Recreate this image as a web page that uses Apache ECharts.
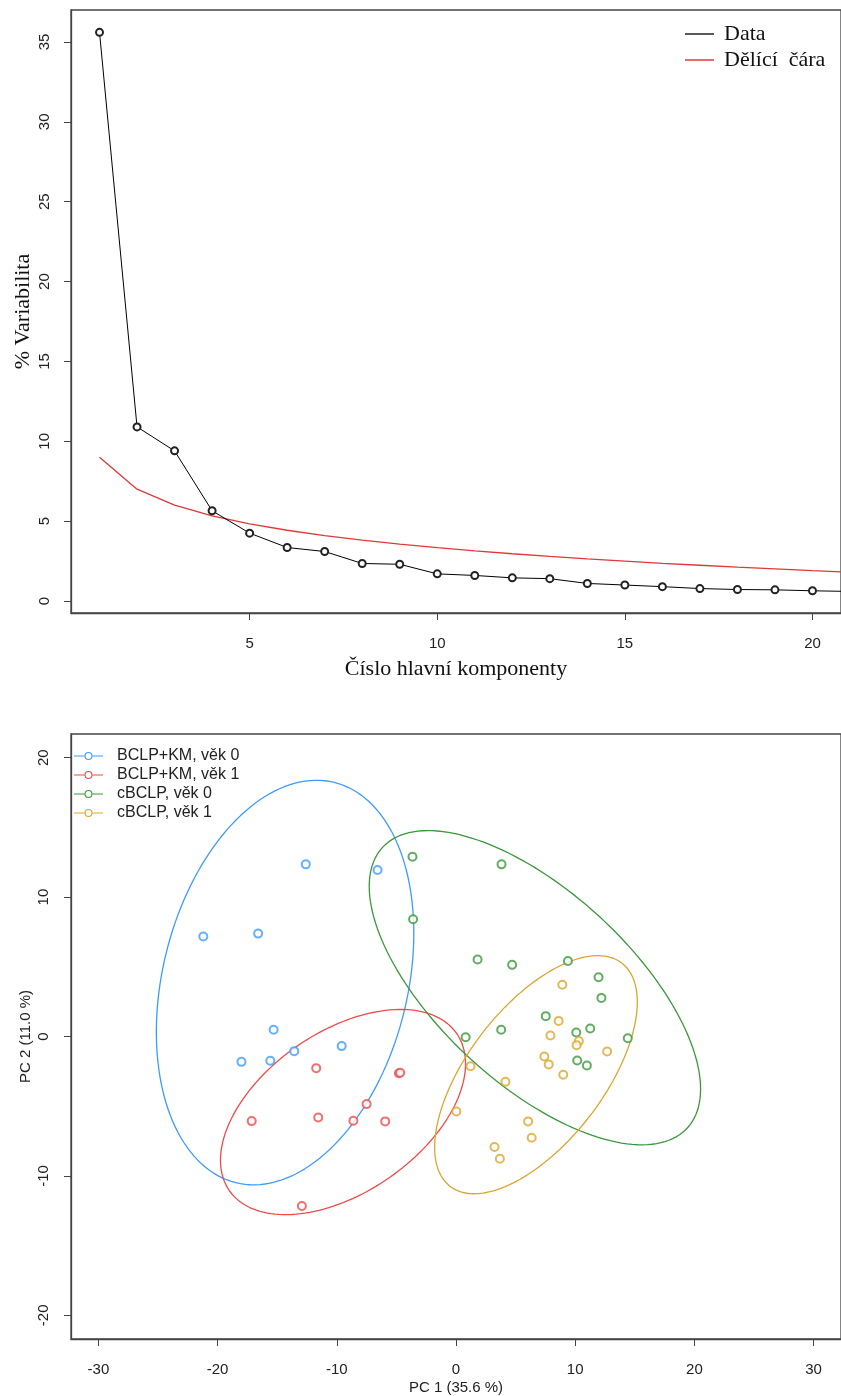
<!DOCTYPE html>
<html>
<head>
<meta charset="utf-8">
<script src="https://cdn.jsdelivr.net/npm/echarts@6/dist/echarts.min.js"></script>
<style>html,body{margin:0;padding:0;background:#fff;}#c{width:841px;height:1396px;}</style>
</head>
<body>
<div id="c"></div>
<script>
// ---------- Scree plot data ----------
const components = [1,2,3,4,5,6,7,8,9,10,11,12,13,14,15,16,17,18,19,20,21];
const dataPct = [35.6,10.9,9.4,5.65,4.25,3.35,3.1,2.35,2.3,1.7,1.6,1.45,1.4,1.1,1.0,0.9,0.78,0.72,0.7,0.64,0.6];
const splitLine = [9.0,7.0,6.0,5.33,4.83,4.43,4.10,3.81,3.56,3.34,3.14,2.96,2.79,2.64,2.50,2.36,2.24,2.12,2.01,1.90,1.80];
const screeXTicks = [5,10,15,20];
const screeYTicks = [0,5,10,15,20,25,30,35];
const screeNames = ['Data','Dělící  čára'];

// ---------- PCA scores ----------
const groupNames = ['BCLP+KM, věk 0','BCLP+KM, věk 1','cBCLP, věk 0','cBCLP, věk 1'];
const pc1Blue = [-12.6,-6.58,-21.2,-16.6,-15.3,-9.59,-13.57,-18.0,-15.58];
const pc2Blue = [12.35,11.95,7.17,7.38,0.48,-0.69,-1.05,-1.82,-1.74];
const pc1Red = [-11.73,-4.79,-4.68,-7.5,-17.14,-11.56,-8.61,-5.94,-12.93];
const pc2Red = [-2.27,-2.63,-2.60,-4.85,-6.07,-5.81,-6.05,-6.09,-12.16];
const pc1Green = [-3.65,3.82,-3.6,1.81,4.71,9.39,11.96,12.2,7.53,3.79,10.09,11.26,0.81,14.41,10.17,10.98];
const pc2Green = [12.9,12.35,8.41,5.52,5.14,5.42,4.25,2.77,1.46,0.48,0.29,0.57,-0.05,-0.12,-1.72,-2.08];
const pc1Orange = [8.92,8.61,7.92,10.31,10.12,12.68,7.41,7.78,9.0,1.22,4.15,0.03,6.05,6.35,3.23,3.68];
const pc2Orange = [3.71,1.12,0.07,-0.33,-0.62,-1.08,-1.43,-2.0,-2.75,-2.13,-3.25,-5.38,-6.09,-7.26,-7.93,-8.77];
// ellipse parameters (center, half extents along PC1/PC2, correlation)
const ellCx = [-14.34,-9.48,6.62,6.71];
const ellCy = [3.87,-5.42,3.50,-2.74];
const ellHx = [10.80,10.28,13.90,8.50];
const ellHy = [14.51,7.36,11.27,8.54];
const ellR = [0.244,0.47,-0.645,0.61];
const pcaXTicks = [-30,-20,-10,0,10,20,30];
const pcaYTicks = [-20,-10,0,10,20];

const groupColors = ['#3D9BFF','#F04A4A','#3A983A','#DDA52E'];
const sans = 'Liberation Sans';
const serif = 'Liberation Serif';

const pcX = [pc1Blue,pc1Red,pc1Green,pc1Orange];
const pcY = [pc2Blue,pc2Red,pc2Green,pc2Orange];

function ellipsePoints(i){
  const pts = [];
  const n = 160;
  const s = Math.sqrt(1 - ellR[i]*ellR[i]);
  for (let k = 0; k <= n; k++){
    const t = 2*Math.PI*k/n;
    pts.push([ellCx[i] + ellHx[i]*Math.cos(t), ellCy[i] + ellHy[i]*(ellR[i]*Math.cos(t) + s*Math.sin(t))]);
  }
  return pts;
}

// legend icon: short line with an open circle in the middle
const lineCircleIcon = 'path://M0,3.6 L10.5,3.6 L10.5,4.4 L0,4.4 Z M18.5,3.6 L29,3.6 L29,4.4 L18.5,4.4 Z ' +
  'M10.5,4 A4,4 0 1,0 18.5,4 A4,4 0 1,0 10.5,4 Z M11.6,4 A2.9,2.9 0 1,1 17.4,4 A2.9,2.9 0 1,1 11.6,4 Z';

const series = [];
series.push({
  name: screeNames[0], type:'line', xAxisIndex:0, yAxisIndex:0,
  data: components.map((c,i)=>[c,dataPct[i]]),
  symbol:'emptyCircle', symbolSize:7, showAllSymbol:true,
  itemStyle:{color:'#222', borderWidth:0.9},
  lineStyle:{color:'#000', width:1}, z:3, animation:false
});
series.push({
  name: screeNames[1], type:'line', xAxisIndex:0, yAxisIndex:0,
  data: components.map((c,i)=>[c,splitLine[i]]),
  symbol:'none', itemStyle:{color:'#E03838'},
  lineStyle:{color:'#E03838', width:1.3}, z:2, animation:false
});
for (let g = 0; g < 4; g++){
  series.push({
    name: groupNames[g], type:'line', xAxisIndex:1, yAxisIndex:1,
    data: ellipsePoints(g), showSymbol:false, symbol:'none',
    lineStyle:{color:groupColors[g], width:1.3}, itemStyle:{color:groupColors[g]},
    z:2, animation:false, silent:true
  });
}
for (let g = 0; g < 4; g++){
  series.push({
    name: groupNames[g], type:'scatter', xAxisIndex:1, yAxisIndex:1,
    data: pcX[g].map((x,i)=>[x,pcY[g][i]]),
    symbol:'emptyCircle', symbolSize:8,
    itemStyle:{color:groupColors[g], borderColor:groupColors[g], borderWidth:1.3},
    z:3, animation:false
  });
}

const labelStyle = {color:'#222', fontFamily:sans, fontSize:15};
const axLine = {show:true, onZero:false, lineStyle:{color:'#444', width:1.3}};
const chart = echarts.init(document.getElementById('c'), null, {renderer:'canvas', width:841, height:1396});
chart.setOption({
  backgroundColor:'#fff',
  animation:false,
  grid:[
    {left:71, top:10, width:775, height:603, show:true, borderColor:'#444', borderWidth:1.3, backgroundColor:'transparent'},
    {left:71, top:734, width:773, height:605, show:true, borderColor:'#444', borderWidth:1.3, backgroundColor:'transparent'}
  ],
  xAxis:[
    {type:'value', gridIndex:0, min:0.24, max:20.76, splitLine:{show:false}, axisLine:axLine,
     axisTick:{show:true, length:7, customValues:screeXTicks, lineStyle:{color:'#444'}},
     axisLabel:{customValues:screeXTicks, margin:23, ...labelStyle},
     name:'Číslo hlavní komponenty', nameLocation:'middle', nameGap:45,
     nameTextStyle:{fontFamily:serif, fontSize:22, color:'#111'}},
    {type:'value', gridIndex:1, min:-32.3, max:32.3, splitLine:{show:false}, axisLine:axLine,
     axisTick:{show:true, length:7, customValues:pcaXTicks, lineStyle:{color:'#444'}},
     axisLabel:{customValues:pcaXTicks, margin:23, ...labelStyle},
     name:'PC 1 (35.6 %)', nameLocation:'middle', nameGap:41,
     nameTextStyle:{fontFamily:sans, fontSize:15, color:'#222'}}
  ],
  yAxis:[
    {type:'value', gridIndex:0, min:-0.75, max:37.0, splitLine:{show:false}, axisLine:axLine,
     axisTick:{show:true, length:7, customValues:screeYTicks, lineStyle:{color:'#444'}},
     axisLabel:{customValues:screeYTicks, margin:19, rotate:90, ...labelStyle},
     name:'% Variabilita', nameLocation:'middle', nameGap:37, nameRotate:90, nameMoveOverlap:false,
     nameTextStyle:{fontFamily:serif, fontSize:22, color:'#111'}},
    {type:'value', gridIndex:1, min:-21.7, max:21.7, splitLine:{show:false}, axisLine:axLine,
     axisTick:{show:true, length:7, customValues:pcaYTicks, lineStyle:{color:'#444'}},
     axisLabel:{customValues:pcaYTicks, margin:20, rotate:90, ...labelStyle},
     name:'PC 2 (11.0 %)', nameLocation:'middle', nameGap:38, nameRotate:90, nameMoveOverlap:false,
     nameTextStyle:{fontFamily:sans, fontSize:15, color:'#222'}}
  ],
  legend:[
    {left:685, top:23, padding:0, orient:'vertical', itemWidth:29, itemHeight:1.5, itemGap:4,
     icon:'rect', selectedMode:false,
     data: screeNames,
     textStyle:{fontFamily:serif, fontSize:22, color:'#111', padding:[0,0,0,5]}},
    {left:74, top:748, padding:0, orient:'vertical', itemWidth:29, itemHeight:8, itemGap:3,
     selectedMode:false,
     data: groupNames.map((n,g)=>({name:n, icon:lineCircleIcon,
        itemStyle:{color:groupColors[g], borderWidth:0}})),
     textStyle:{fontFamily:sans, fontSize:16, color:'#222', padding:[0,0,0,9]}}
  ],
  series: series
});
</script>
</body>
</html>
